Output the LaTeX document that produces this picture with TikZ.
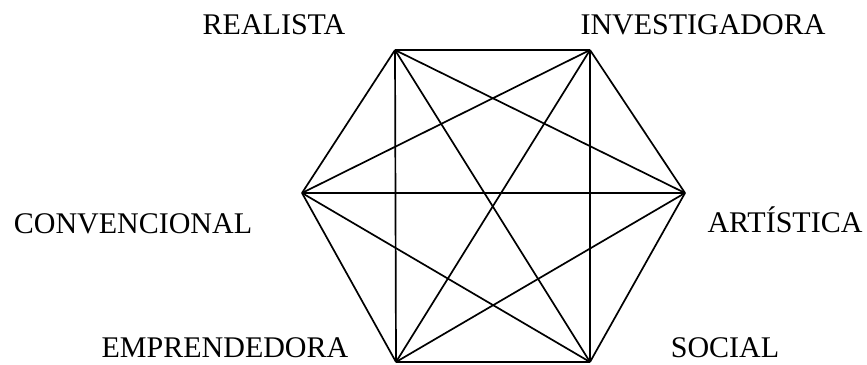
\documentclass[tikz,border=0pt]{standalone}
\usepackage{fontspec}
\setmainfont{Liberation Serif}
\usepackage{tikz}

\begin{document}
\begin{tikzpicture}[x=1pt, y=-1pt,
          label/.style={anchor=base, inner sep=0pt, font=\fontsize{30}{36}\selectfont},
          edge/.style={line width=1.7pt, black}
      ]
        \useasboundingbox (0,0) rectangle (867,364);
        % corners of the hexagon
        \coordinate (rea) at (395,50);
        \coordinate (inv) at (590,50);
        \coordinate (art) at (685,193);
        \coordinate (soc) at (590,362);
        \coordinate (emp) at (396,362);
        \coordinate (con) at (302,193);
        % type names
        \node[label] (lrea) at (274,34)  {REALISTA};
        \node[label] (linv) at (703,34)  {INVESTIGADORA};
        \node[label] (lcon) at (133,233) {CONVENCIONAL};
        \node[label] (lart) at (785,232) {ARTÍSTICA};
        \node[label] (lemp) at (225,357) {EMPRENDEDORA};
        \node[label] (lsoc) at (725,357) {SOCIAL};
        % every pair joined
        \foreach \a/\b in {rea/inv, rea/art, rea/soc, rea/emp, rea/con,
                           inv/art, inv/soc, inv/emp, inv/con,
                           art/soc, art/emp, art/con,
                           soc/emp, soc/con,
                           emp/con}
          \draw[edge] (\a) -- (\b);
      \end{tikzpicture}
\end{document}
